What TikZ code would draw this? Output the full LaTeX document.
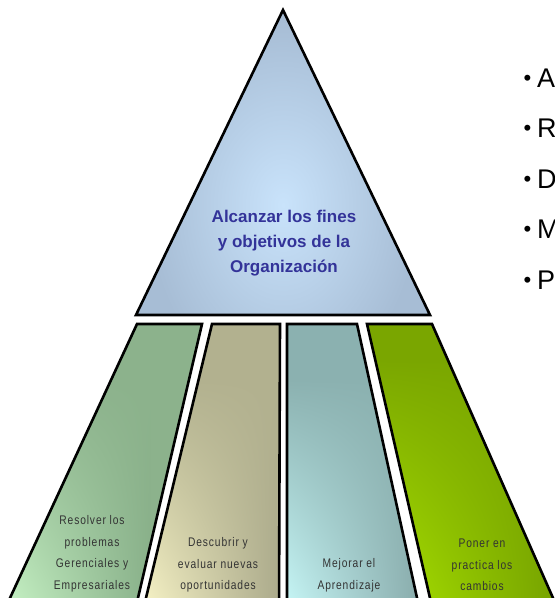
\documentclass[tikz,border=0pt]{standalone}
\usepackage{fontspec}
\usetikzlibrary{shadings}
\setmainfont{Liberation Sans}
\newfontfamily\pillarfont[FakeStretch=0.82,LetterSpace=7]{Liberation Sans}
\definecolor{tribright}{HTML}{C9E3FB}
\definecolor{tridark}{HTML}{A7BDD5}
\definecolor{titleblue}{HTML}{333399}
\definecolor{pillartext}{HTML}{333333}
% pillar colours: top, bright lower-left, dark lower-right
\definecolor{gTop}{HTML}{8CB28C}\definecolor{gLight}{HTML}{CCF8CA}\definecolor{gDark}{HTML}{88B089}
\definecolor{tTop}{HTML}{B2B18F}\definecolor{tLight}{HTML}{FCF8CA}\definecolor{tDark}{HTML}{A9A88A}
\definecolor{cTop}{HTML}{8BB1B0}\definecolor{cLight}{HTML}{CAFAFA}\definecolor{cDark}{HTML}{88AAAA}
\definecolor{yTop}{HTML}{7AA600}\definecolor{yLight}{HTML}{B2EE00}\definecolor{yDark}{HTML}{74A000}
\tikzset{
  outline/.style={draw=black, line width=2.6pt, line join=miter},
  pillarlabel/.style={font=\pillarfont\fontsize{12.5}{21.5}\selectfont, text=pillartext, align=center, inner sep=0pt},
  bulletdot/.style={font=\fontsize{22}{22}\selectfont, anchor=base, inner sep=0pt},
  bulletitem/.style={font=\fontsize{27}{30}\selectfont, anchor=base west, inner sep=0pt}
}
\begin{document}
\begin{tikzpicture}[x=1pt,y=-1pt]
\useasboundingbox (0,0) rectangle (555,598);
\clip (0,0) rectangle (555,598);

% apex triangle
\coordinate (apex) at (283,10);
\coordinate (tl) at (136,315);
\coordinate (tr) at (430,315);
\begin{scope}
  \clip (apex) -- (tl) -- (tr) -- cycle;
  \fill[tridark] (tl) rectangle (283,0) (283,0) rectangle (tr);
  \shade[inner color=tribright, outer color=tridark] (283,205) ellipse (135 and 185);
\end{scope}
\draw[outline] (apex) -- (tl) -- (tr) -- cycle;
\node[font=\bfseries\fontsize{17}{25}\selectfont, text=titleblue, align=center, inner sep=0pt] (goal) at (284,243)
  {Alcanzar los fines\\y objetivos de la\\Organización};

% pillar 1
\begin{scope}
  \clip (137,324) -- (202,324) -- (134.7,612) -- (3.5,612) -- cycle;
  \fill[gTop] (0,320) rectangle (205,615);
  \shade[upper left=gTop, upper right=gTop, lower left=gLight, lower right=gDark] (0,380) rectangle (150,615);
\end{scope}
\draw[outline] (137,324) -- (202,324) -- (134.7,612) -- (3.5,612) -- cycle;
\node[pillarlabel] (p1) at (92,554) {Resolver los\\problemas\\Gerenciales y\\Empresariales};

% pillar 2
\begin{scope}
  \clip (212,324) -- (280,324) -- (279,612) -- (142.6,612) -- cycle;
  \fill[tTop] (140,320) rectangle (282,615);
  \shade[upper left=tTop, upper right=tTop, lower left=tLight, lower right=tDark] (140,380) rectangle (282,615);
\end{scope}
\draw[outline] (212,324) -- (280,324) -- (279,612) -- (142.6,612) -- cycle;
\node[pillarlabel] (p2) at (218,565) {Descubrir y\\evaluar nuevas\\oportunidades};

% pillar 3
\begin{scope}
  \clip (287,324) -- (357,324) -- (420.1,612) -- (287,612) -- cycle;
  \fill[cTop] (285,320) rectangle (422,615);
  \shade[upper left=cTop, upper right=cTop, lower left=cLight, lower right=cDark] (285,380) rectangle (422,615);
\end{scope}
\draw[outline] (287,324) -- (357,324) -- (420.1,612) -- (287,612) -- cycle;
\node[pillarlabel] (p3) at (349,575.5) {Mejorar el\\Aprendizaje};

% pillar 4
\begin{scope}
  \clip (367,324) -- (432,324) -- (559.2,612) -- (433.2,612) -- cycle;
  \fill[yTop] (365,320) rectangle (562,615);
  \shade[upper left=yTop, upper right=yTop, lower left=yLight, lower right=yDark] (365,360) rectangle (562,615);
\end{scope}
\draw[outline] (367,324) -- (432,324) -- (559.2,612) -- (433.2,612) -- cycle;
\node[pillarlabel] (p4) at (482,565) {Poner en\\practica los\\cambios};

% bullet list running off the right edge
\foreach \y/\letter [count=\i] in {87/A, 137.5/R, 188/D, 238.5/M, 289/P} {
  \node[bulletdot] (dot\i) at (527.5,\y-2) {\textbullet};
  \node[bulletitem] (item\i) at (537,\y) {\letter};
}
\end{tikzpicture}
\end{document}
